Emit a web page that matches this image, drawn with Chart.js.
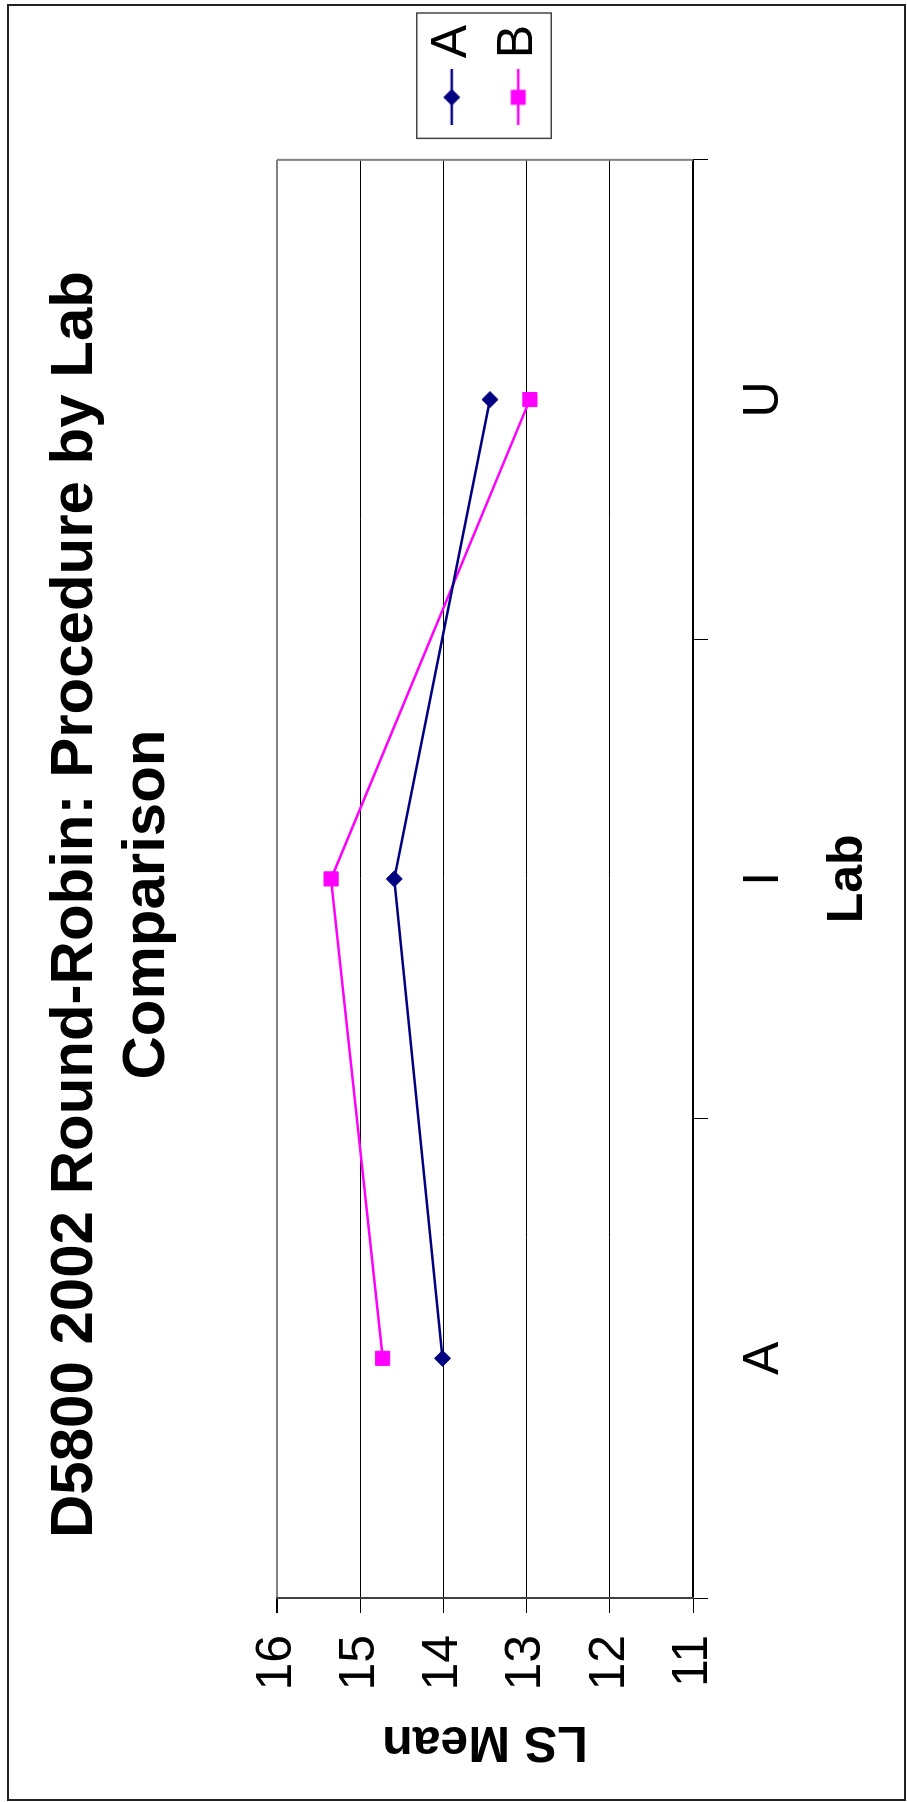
<!DOCTYPE html>
<html>
<head>
<meta charset="utf-8">
<script src="https://cdn.jsdelivr.net/npm/chart.js@4.4.1/dist/chart.umd.min.js"></script>
<style>
  html, body { margin: 0; padding: 0; background: #fff; overflow: hidden; }
  #wrap {
    position: absolute; left: 0; top: 0;
    width: 1802px; height: 907px;
    transform-origin: 0 0;
    transform: translateY(1802px) rotate(-90deg);
  }
  canvas { display: block; }
</style>
</head>
<body>
<div id="wrap"><canvas id="c" width="1802" height="907"></canvas></div>
<script>
// ---- data ----
const categories = ['A', 'I', 'U'];
const seriesNames = ['A', 'B'];
const seriesA = [14.01, 14.59, 13.44];
const seriesB = [14.73, 15.35, 12.96];
const yTicks = [16, 15, 14, 13, 12, 11];
const titleLines = ['D5800 2002 Round-Robin: Procedure by Lab', 'Comparison'];
const xTitle = 'Lab';
const yTitle = 'LS Mean';

const NAVY = '#000080';
const MAGENTA = '#FF00FF';
const FONT = "'Liberation Sans', Arial, Helvetica, sans-serif";

Chart.defaults.font.family = FONT;
Chart.defaults.color = '#000';

// legend icons: a line with the marker in the middle
function makeIcon(color, shape) {
  const cv = document.createElement('canvas');
  cv.width = 56; cv.height = 18;
  const g = cv.getContext('2d');
  g.strokeStyle = color; g.lineWidth = 2.5;
  g.beginPath(); g.moveTo(0, 9); g.lineTo(56, 9); g.stroke();
  g.fillStyle = color;
  g.beginPath();
  if (shape === 'diamond') {
    g.moveTo(28 - 8.5, 9); g.lineTo(28, 0.5); g.lineTo(28 + 8.5, 9); g.lineTo(28, 17.5); g.closePath();
  } else {
    g.rect(28 - 7.5, 9 - 7.5, 15, 15);
  }
  g.fill();
  return cv;
}
const legendIcons = [makeIcon(NAVY, 'diamond'), makeIcon(MAGENTA, 'square')];

const framePlugin = {
  id: 'frame',
  beforeDraw(chart) {
    const ctx = chart.ctx;
    ctx.save();
    ctx.fillStyle = '#fff';
    ctx.fillRect(0, 0, chart.width, chart.height);
    ctx.restore();
  },
  beforeDatasetsDraw(chart) {
    const {ctx, chartArea: ca} = chart;
    ctx.save();
    ctx.strokeStyle = '#808080';
    ctx.lineWidth = 2;
    ctx.beginPath();
    ctx.moveTo(ca.right, ca.top);
    ctx.lineTo(ca.right, ca.bottom);
    ctx.stroke();
    ctx.restore();
  },
  afterDraw(chart) {
    const ctx = chart.ctx;
    ctx.save();
    // outer chart border
    ctx.strokeStyle = '#222';
    ctx.lineWidth = 2;
    ctx.strokeRect(2, 8, chart.width - 7, chart.height - 10);
    // legend border
    const hb = chart.legend.legendHitBoxes;
    if (hb && hb.length) {
      const first = hb[0], last = hb[hb.length - 1];
      const l = first.left - 27, t = first.top - 10;
      const r = first.left + first.width + 12, b = last.top + last.height + 8;
      ctx.strokeStyle = '#444';
      ctx.lineWidth = 1.5;
      ctx.strokeRect(l, t, r - l, b - t);
    }
    ctx.restore();
  }
};

new Chart(document.getElementById('c'), {
  type: 'line',
  data: {
    labels: categories,
    datasets: [
      {
        label: seriesNames[0], data: seriesA,
        borderColor: NAVY, backgroundColor: NAVY, borderWidth: 2.5,
        pointStyle: 'rectRot', pointRadius: 8, pointBorderWidth: 1,
        pointBackgroundColor: NAVY, pointBorderColor: NAVY, tension: 0, fill: false
      },
      {
        label: seriesNames[1], data: seriesB,
        borderColor: MAGENTA, backgroundColor: MAGENTA, borderWidth: 2.5,
        pointStyle: 'rect', pointRadius: 10, pointBorderWidth: 1,
        pointBackgroundColor: MAGENTA, pointBorderColor: MAGENTA, tension: 0, fill: false
      }
    ]
  },
  options: {
    responsive: false,
    animation: false,
    events: [],
    layout: { padding: { left: 8, right: 15, top: 0, bottom: 0 } },
    plugins: {
      title: {
        display: true, text: titleLines, color: '#000',
        font: { size: 60, weight: 'bold', lineHeight: 1.2 },
        padding: { top: 39, bottom: 94 }
      },
      legend: {
        display: true, position: 'right', fullSize: false, align: 'center',
        labels: {
          font: { size: 50 }, color: '#000',
          usePointStyle: true, boxWidth: 28, boxHeight: 50, padding: 16.5,
          generateLabels(chart) {
            const items = Chart.defaults.plugins.legend.labels.generateLabels(chart);
            items.forEach((it, i) => { it.pointStyle = legendIcons[i]; });
            return items;
          }
        }
      },
      tooltip: { enabled: false }
    },
    scales: {
      x: {
        type: 'category', offset: true,
        grid: {
          display: true, offset: true, drawOnChartArea: false, drawTicks: true,
          tickLength: 15, color: '#000', lineWidth: 1
        },
        border: { display: true, color: '#000', width: 2 },
        ticks: { font: { size: 50 }, color: '#000', padding: 26, maxRotation: 0, autoSkip: false },
        title: { display: true, text: xTitle, font: { size: 50, weight: 'bold' }, color: '#000', padding: { top: 0, bottom: 29 } },
        afterFit(s) { s.height = 214; }
      },
      y: {
        type: 'linear', position: 'left', min: 11, max: 16,
        afterBuildTicks(s) { s.ticks = yTicks.map(v => ({ value: v })); },
        grid: {
          display: true, drawOnChartArea: true, drawTicks: true, tickLength: 15,
          color: (c) => (c.tick && c.tick.value === 16 ? '#808080' : '#000'),
          lineWidth: (c) => (c.tick && c.tick.value === 16 ? 2 : 1),
          tickColor: '#000'
        },
        border: { display: true, color: '#404040', width: 2 },
        ticks: { font: { size: 50 }, color: '#000', padding: 22, callback: (v) => String(v) },
        title: { display: true, text: yTitle, font: { size: 50, weight: 'bold' }, color: '#000', padding: { top: 23, bottom: 0 } },
        afterFit(s) { s.width = 196; }
      },
      yr: {
        type: 'linear', position: 'right', display: true, min: 0, max: 1,
        grid: { display: false, drawTicks: false },
        ticks: { display: false },
        border: { display: false },
        afterFit(s) { s.width = 32; }
      }
    }
  },
  plugins: [framePlugin]
});
</script>
</body>
</html>
